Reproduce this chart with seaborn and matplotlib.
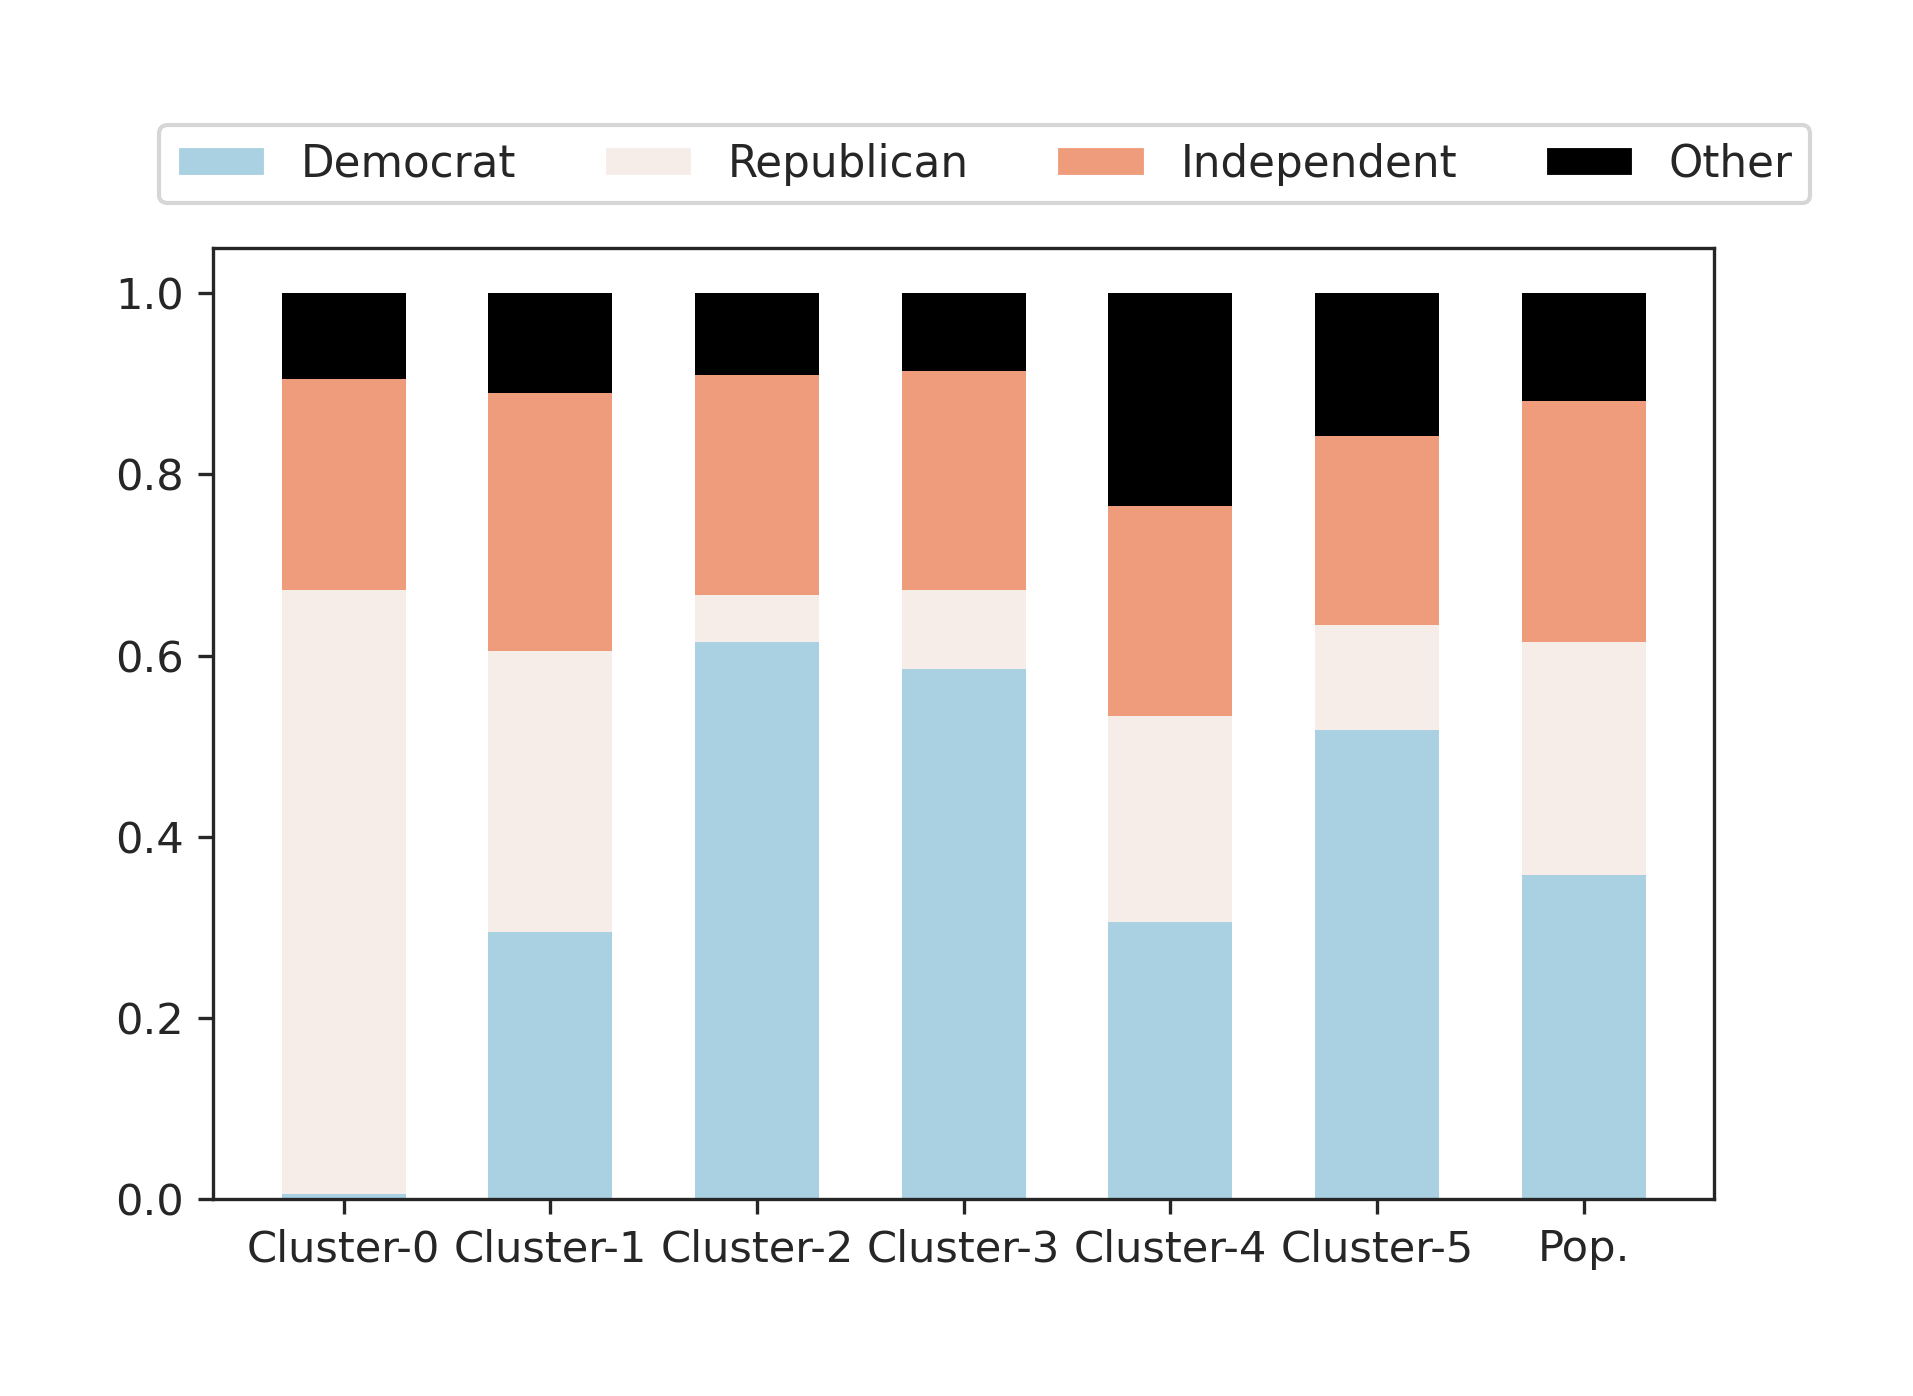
import matplotlib
matplotlib.use("Agg")
import matplotlib.pyplot as plt
from matplotlib.patches import Patch
import numpy as np
import seaborn as sns

# Datos (proporciones por grupo)
categories = ["Cluster-0", "Cluster-1", "Cluster-2", "Cluster-3", "Cluster-4", "Cluster-5", "Pop."]
democrat = [0.005, 0.295, 0.615, 0.585, 0.306, 0.518, 0.358]
republican = [0.667, 0.310, 0.052, 0.087, 0.227, 0.116, 0.257]
independent = [0.233, 0.285, 0.243, 0.242, 0.232, 0.208, 0.266]
other = [0.095, 0.110, 0.090, 0.086, 0.235, 0.158, 0.119]

series_names = ["Democrat", "Republican", "Independent", "Other"]
colors = ["#a9d1e2", "#f6ede8", "#ef9c7c", "#000000"]

sns.set_style("ticks")
plt.rcParams["font.family"] = ["DejaVu Sans"]
plt.rcParams["font.size"] = 10.4

fig = plt.figure(figsize=(1913 / 300, 1396 / 300), dpi=300)
ax = fig.add_axes([0.1116, 0.1411, 0.7844, 0.6813])

# Barras apiladas: se dibujan las sumas acumuladas de arriba hacia abajo
stack = np.cumsum([democrat, republican, independent, other], axis=0)
for i in range(len(series_names) - 1, -1, -1):
    sns.barplot(x=categories, y=stack[i], color=colors[i], saturation=1,
                width=0.6, ax=ax, linewidth=0)

ax.set_xlim(-0.63, len(categories) - 1 + 0.63)
ax.set_ylim(0, 1.05)
ax.set_yticks([0.0, 0.2, 0.4, 0.6, 0.8, 1.0])
ax.tick_params(labelsize=10.4)

handles = [Patch(facecolor=c, label=n) for n, c in zip(series_names, colors)]
ax.legend(handles=handles, ncol=4, loc="lower center", fontsize=10.47,
          handlelength=2.05, bbox_to_anchor=(0.514, 1.047), borderaxespad=0)

fig.savefig("out.png", dpi=300)
